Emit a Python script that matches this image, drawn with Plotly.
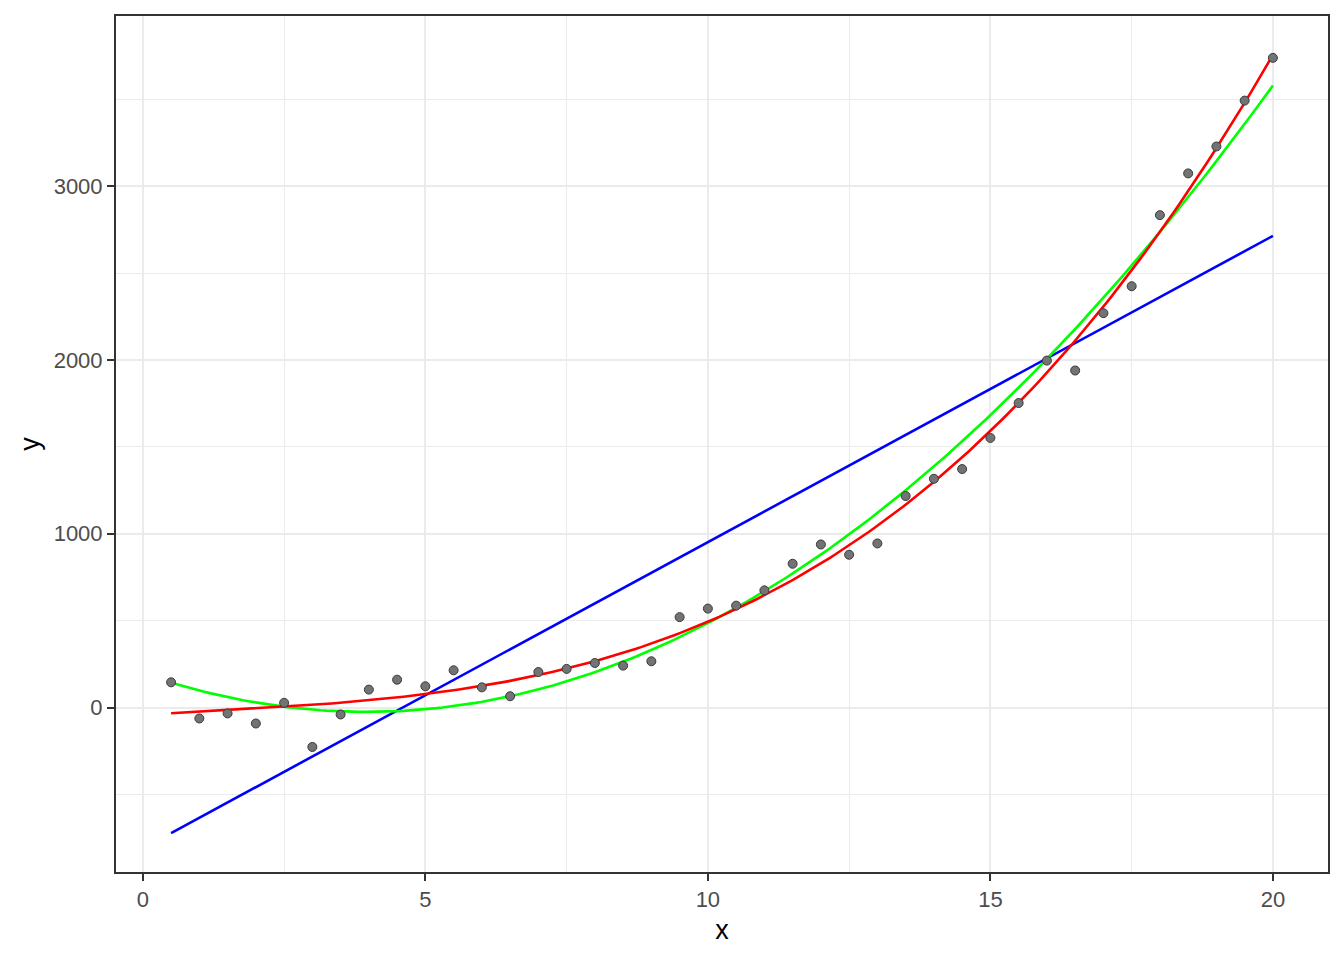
import numpy as np
import plotly.graph_objects as go

x_vals = [0.5, 1, 1.5, 2, 2.5, 3, 3.5, 4, 4.5, 5, 5.5, 6, 6.5, 7, 7.5, 8, 8.5, 9, 9.5, 10,
          10.5, 11, 11.5, 12, 12.5, 13, 13.5, 14, 14.5, 15, 15.5, 16, 16.5, 17, 17.5, 18,
          18.5, 19, 19.5, 20]
y_vals = [145, -63, -34, -92, 27, -227, -40, 103, 160, 122, 214, 116, 65, 204, 222, 256, 241, 266, 520, 569,
          586, 674, 827, 938, 879, 944, 1217, 1316, 1372, 1551, 1752, 1996, 1939, 2269, 2424, 2833,
          3073, 3228, 3492, 3738]
x_ticks = [0, 5, 10, 15, 20]
y_ticks = [0, 1000, 2000, 3000]
x_minor = [2.5, 7.5, 12.5, 17.5]
y_minor = [-500, 500, 1500, 2500, 3500]

x = np.array(x_vals, dtype=float)
y = np.array(y_vals, dtype=float)
xs = np.linspace(x.min(), x.max(), 200)

fits = []
for deg, col in [(1, "#0000FF"), (2, "#00FF00"), (3, "#FF0000")]:
    c = np.polyfit(x, y, deg)
    fits.append((np.polyval(c, xs), col))

fig = go.Figure()
for ys, col in fits:
    fig.add_trace(go.Scatter(x=xs, y=ys, mode="lines", line=dict(color=col, width=2.6),
                             hoverinfo="skip", showlegend=False))
fig.add_trace(go.Scatter(x=x, y=y, mode="markers",
                         marker=dict(size=9, color="#737373", line=dict(color="#3a3a3a", width=1)),
                         showlegend=False))

allv = np.concatenate([y] + [f[0] for f in fits])
ylo, yhi = allv.min(), allv.max()
ypad = 0.05 * (yhi - ylo)
xpad = 0.05 * (x.max() - x.min())

FONT = "Liberation Sans, Arial, sans-serif"
axis_common = dict(showline=True, linecolor="#333333", linewidth=2, mirror=True,
                   gridcolor="#EBEBEB", gridwidth=2, zeroline=False,
                   ticks="outside", ticklen=7, tickcolor="#333333", tickwidth=2,
                   tickfont=dict(family=FONT, size=22, color="#4D4D4D"))

fig.update_layout(
    width=1328, height=944,
    paper_bgcolor="white", plot_bgcolor="white",
    margin=dict(l=108, r=7, t=6, b=80),
    xaxis=dict(range=[x.min() - xpad, x.max() + xpad], tickvals=x_ticks,
               title=dict(text="x", font=dict(family=FONT, size=27, color="black"), standoff=9),
               minor=dict(showgrid=True, gridcolor="#EBEBEB", gridwidth=1, ticks="", tickvals=x_minor),
               **axis_common),
    yaxis=dict(range=[ylo - ypad, yhi + ypad], tickvals=y_ticks,
               title=dict(text="y", font=dict(family=FONT, size=27, color="black"), standoff=6),
               minor=dict(showgrid=True, gridcolor="#EBEBEB", gridwidth=1, ticks="", tickvals=y_minor),
               **axis_common),
)

fig.write_html("out.html")
